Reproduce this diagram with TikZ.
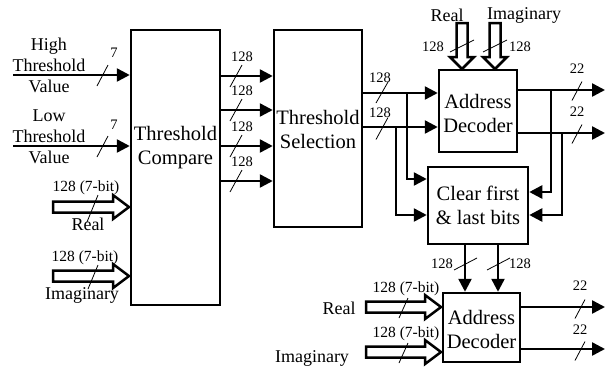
\documentclass[tikz,border=0pt]{standalone}
\usepackage{fontspec}
\setmainfont{Liberation Serif}
\usetikzlibrary{arrows.meta,calc}
\tikzset{
  box/.style={draw, line width=2.5pt, inner sep=0pt},
  boxtxt/.style={font=\fontsize{20.5}{24}\selectfont, align=center, inner sep=0pt},
  arr/.style={line width=2.5pt, -{Triangle[length=13pt,width=13pt]}},
  fat/.style={draw, line width=2.5pt, fill=white, line join=miter, miter limit=4},
  sl/.style={line width=0.8pt},
  lbl/.style={font=\fontsize{14.5}{16}\selectfont, inner sep=0pt},
  lblb/.style={font=\fontsize{15.5}{17}\selectfont, inner sep=0pt},
  side/.style={font=\fontsize{18}{21}\selectfont, align=center, inner sep=0pt},
}
\newcommand{\fatR}[3]{\draw[fat] (#1,{#3-5.5}) -- ({#2-16},{#3-5.5}) -- ({#2-16},{#3-12}) -- (#2,#3) -- ({#2-16},{#3+12}) -- ({#2-16},{#3+5.5}) -- (#1,{#3+5.5}) -- cycle;}
\newcommand{\fatD}[3]{\draw[fat] ({#1-5.5},#2) -- ({#1-5.5},{#3-12}) -- ({#1-12},{#3-12}) -- (#1,#3) -- ({#1+12},{#3-12}) -- ({#1+5.5},{#3-12}) -- ({#1+5.5},#2) -- cycle;}
\newcommand{\slsh}[4]{\draw[sl] ({#1-#3},{#2+#4}) -- ({#1+#3},{#2-#4});}
\begin{document}
\begin{tikzpicture}[x=1pt,y=-1pt]
\useasboundingbox (0,0) rectangle (605,368);
% boxes
\node[box, minimum width=89pt, minimum height=275pt] (tc) at (175.5,167.5) {};
\node[boxtxt] (tct) at (175.5,148) {Threshold\\Compare};
\node[box, minimum width=88pt, minimum height=197pt] (ts) at (318,128.5) {};
\node[boxtxt] (tst) at (318,129.5) {Threshold\\Selection};
\node[box, minimum width=78pt, minimum height=82pt] (ad1) at (478,111) {};
\node[boxtxt] (ad1t) at (478,113) {Address\\Decoder};
\node[box, minimum width=100pt, minimum height=77pt] (clr) at (478,205.5) {};
\node[boxtxt] (clrt) at (478,205.5) {Clear first\\\& last bits};
\node[box, minimum width=77pt, minimum height=69pt] (ad2) at (481.5,327.5) {};
\node[boxtxt] (ad2t) at (481.5,329) {Address\\Decoder};

% left inputs
\coordinate (hin) at (13,75);
\coordinate (lin) at (13,146);
\draw[arr] (hin) -- (hin -| tc.west);
\draw[arr] (lin) -- (lin -| tc.west);
\node[side] (hl) at (49,65) {High\\Threshold\\Value};
\node[side] (ll) at (49,137) {Low\\Threshold\\Value};
\slsh{102.5}{75.5}{5.5}{10.5}
\slsh{102.5}{146.5}{5.5}{10.5}
\node[lbl] (h7) at (114,53) {7};
\node[lbl] (l7) at (114,125) {7};

% left fat inputs
\fatR{53}{129}{207}
\fatR{53}{129}{276}
\node[lblb] (r7) at (86,188) {128 (7-bit)};
\node[side] (rl) at (88,224) {Real};
\slsh{92.5}{208.5}{5.5}{13.5}
\node[lblb] (i7) at (85,258) {128 (7-bit)};
\node[side] (il) at (82,295) {Imaginary};
\slsh{93}{277}{5}{12}

% TC -> TS
\foreach \yy/\nm in {76/a,110/b,146/c,181/d}{
  \coordinate (tc\nm) at (tc.east |- 0,\yy);
  \draw[arr] (tc\nm) -- (tc\nm -| ts.west);
  \slsh{236}{\yy}{6}{11}
  \node[lbl] at (242,{\yy-19}) {128};
}

% TS -> AD1
\coordinate (tsa) at (ts.east |- 0,93);
\coordinate (tsb) at (ts.east |- 0,127);
\draw[arr] (tsa) -- (tsa -| ad1.west);
\draw[arr] (tsb) -- (tsb -| ad1.west);
\slsh{382}{92.5}{6}{10.5}
\slsh{382}{128.5}{6}{11}
\node[lbl] (tsal) at (380,78) {128};
\node[lbl] (tsbl) at (380,113) {128};

% taps to clear (left)
\coordinate (tapa) at (407,93);
\coordinate (tapb) at (396,127);
\draw[arr] (tapa) |- (clr.west |- 0,179);
\draw[arr] (tapb) |- (clr.west |- 0,215);

% AD1 outputs
\coordinate (oa) at (ad1.east |- 0,90);
\coordinate (ob) at (ad1.east |- 0,133);
\coordinate (oae) at (605,90);
\coordinate (obe) at (605,133);
\draw[arr] (oa) -- (oae);
\draw[arr] (ob) -- (obe);
\slsh{577}{91}{5}{9.5}
\slsh{577}{134}{5}{9.5}
\node[lbl] (oal) at (577,69) {22};
\node[lbl] (obl) at (577,112) {22};

% taps to clear (right)
\coordinate (rtapa) at (551,90);
\coordinate (rtapb) at (562,133);
\draw[arr] (rtapa) |- (clr.east |- 0,192);
\draw[arr] (rtapb) |- (clr.east |- 0,215);

% top fat inputs to AD1
\fatD{462}{23}{69}
\fatD{495}{23}{69}
\node[side] (tr) at (447,15) {Real};
\node[side] (ti) at (524,15) {Imaginary};
\draw[sl] (450,52) -- (474,40);
\draw[sl] (483,52) -- (507,40);
\node[lbl] (trl) at (433,47) {128};
\node[lbl] (til) at (520,47) {128};

% clear -> AD2
\coordinate (ca) at (clr.south -| 465,0);
\coordinate (cb) at (clr.south -| 498,0);
\draw[arr] (ca) -- (ca |- ad2.north);
\draw[arr] (cb) -- (cb |- ad2.north);
\draw[sl] (454,270) -- (477,258);
\draw[sl] (487,270) -- (510,258);
\node[lbl] (cal) at (442,264) {128};
\node[lbl] (cbl) at (520,264) {128};

% AD2 fat inputs
\fatR{366}{441}{307}
\fatR{366}{441}{352}
\node[lblb] (r2l) at (406,289) {128 (7-bit)};
\node[lblb] (i2l) at (406,334) {128 (7-bit)};
\slsh{403.5}{308}{4.5}{10}
\slsh{403.5}{353}{4.5}{10}
\node[side] (r2) at (339,308) {Real};
\node[side] (i2) at (312,358) {Imaginary};

% AD2 outputs
\coordinate (pa) at (ad2.east |- 0,307);
\coordinate (pb) at (ad2.east |- 0,349);
\coordinate (pae) at (605,307);
\coordinate (pbe) at (605,349);
\draw[arr] (pa) -- (pae);
\draw[arr] (pb) -- (pbe);
\slsh{580}{309}{5}{9.5}
\slsh{580}{351}{5}{9.5}
\node[lbl] (pal) at (580,286) {22};
\node[lbl] (pbl) at (580,330) {22};
\end{tikzpicture}
\end{document}
